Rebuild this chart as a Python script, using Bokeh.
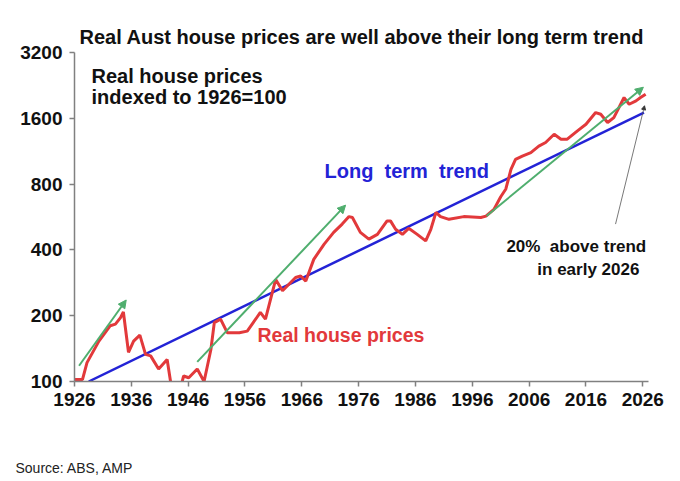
from bokeh.plotting import figure
from bokeh.models import (Range1d, FixedTicker, PrintfTickFormatter, Label, Arrow,
                          NormalHead, Title)
from bokeh.embed import file_html
from bokeh.resources import INLINE

# ---- data ----
price_years = [1926.0, 1927.4, 1928.2, 1930.3, 1932.3, 1933.2, 1934.1, 1934.6, 1935.5,
               1936.4, 1937.5, 1938.5, 1939.4, 1940.8, 1942.3, 1942.9, 1943.6, 1944.5,
               1945.2, 1946.1, 1947.6, 1948.8, 1950.0, 1950.6, 1951.7, 1952.9, 1955.0,
               1956.4, 1958.7, 1959.6, 1961.4, 1962.6, 1964.9, 1965.8, 1966.7, 1968.1,
               1969.9, 1971.6, 1973.1, 1974.3, 1974.9, 1976.3, 1977.8, 1979.3, 1981.0,
               1981.6, 1982.5, 1983.7, 1984.8, 1986.3, 1987.8, 1988.7, 1989.6, 1990.4,
               1991.9, 1994.5, 1997.5, 1998.4, 1999.8, 2001.0, 2001.9, 2002.8, 2003.6,
               2004.8, 2006.3, 2007.7, 2008.9, 2010.4, 2011.6, 2012.7, 2014.5, 2016.0,
               2017.7, 2018.6, 2019.8, 2020.9, 2022.7, 2023.6, 2024.8, 2025.6, 2026.5]
price_values = [102, 102, 122, 153, 180, 183, 196, 208, 136,
                153, 163, 133, 131, 114, 126, 100, 88, 90,
                106, 104, 114, 100, 140, 186, 193, 167, 167,
                170, 207, 193, 293, 260, 299, 304, 288, 362,
                424, 481, 525, 568, 563, 481, 448, 471, 543,
                543, 497, 471, 502, 471, 440, 497, 594, 568,
                552, 568, 563, 571, 613, 700, 760, 935, 1038,
                1075, 1115, 1193, 1240, 1353, 1284, 1284, 1402, 1503,
                1700, 1669, 1530, 1612, 1991, 1855, 1922, 1991, 2060]

trend_years = [1928.5, 2026.2]
trend_values = [100, 1700]

boom_start_years = [1926.8, 1947.6, 1998.5]
boom_start_values = [118, 123, 572]
boom_end_years = [1935.1, 1973.7, 2026.1]
boom_end_values = [236, 641, 2220]

x_ticks = [1926, 1936, 1946, 1956, 1966, 1976, 1986, 1996, 2006, 2016, 2026]
y_ticks = [100, 200, 400, 800, 1600, 3200]

RED = "#e2393b"
BLUE = "#2323d6"
GREEN = "#4fae6e"
FONT = "Liberation Sans"

p = figure(width=664, height=476, y_axis_type="log",
           x_range=Range1d(1926, 2027), y_range=Range1d(100, 3200),
           output_backend="svg", toolbar_location=None,
           min_border_left=74, min_border_right=16, min_border_top=52,
           min_border_bottom=95)

p.title.text = "Real Aust house prices are well above their long term trend"
p.title.text_font = FONT
p.title.text_font_size = "20px"
p.title.text_font_style = "bold"
p.title.text_color = "#111111"
p.title.align = "left"
p.title.offset = 5
p.title.standoff = 9

p.xgrid.visible = False
p.ygrid.visible = False
p.outline_line_color = None

for ax in (p.xaxis[0], p.yaxis[0]):
    ax.axis_line_color = "#808080"
    ax.axis_line_width = 1.5
    ax.major_tick_line_color = "#808080"
    ax.major_tick_line_width = 1.5
    ax.major_tick_out = 5
    ax.major_tick_in = 0
    ax.minor_tick_line_color = None
    ax.major_label_text_font = FONT
    ax.major_label_text_font_style = "bold"
    ax.major_label_text_color = "#111111"

p.xaxis.ticker = FixedTicker(ticks=x_ticks)
p.xaxis.major_label_text_font_size = "19px"
p.xaxis.major_label_standoff = 6
p.yaxis.ticker = FixedTicker(ticks=y_ticks)
p.yaxis.formatter = PrintfTickFormatter(format="%d")
p.yaxis.major_label_text_font_size = "19px"
p.yaxis.major_label_standoff = 7

p.line(trend_years, trend_values, line_color=BLUE, line_width=2.5)
p.line(price_years, price_values, line_color=RED, line_width=3)

for x0, y0, x1, y1 in zip(boom_start_years, boom_start_values, boom_end_years, boom_end_values):
    p.add_layout(Arrow(x_start=x0, y_start=y0, x_end=x1, y_end=y1,
                       line_color=GREEN, line_width=2,
                       end=NormalHead(size=8, fill_color=GREEN, line_color=GREEN)))

p.add_layout(Arrow(x_start=2021.2, y_start=525, x_end=2026.3, y_end=1826,
                   line_color="#555555", line_width=0.8,
                   end=NormalHead(size=4, fill_color="#333333", line_color="#333333")))

def lab(x, y, text, color="#111111", size="17px", style="bold", align="left"):
    p.add_layout(Label(x=x, y=y, text=text, text_color=color, text_font=FONT,
                       text_font_size=size, text_font_style=style,
                       text_align=align, text_baseline="middle"))

NB = "\u00a0"
lab(1929.0, 2492, "Real house prices", size="20px")
lab(1929.0, 1996, "indexed to 1926=100", size="20px")
lab(1970.0, 915, "Long" + NB + " term" + NB + " trend", color=BLUE, size="20px")
lab(1958.2, 163, "Real house prices", color=RED, size="19.5px")
lab(2026.6, 416, "20%" + NB + " above trend", align="right")
lab(2025.4, 326, "in early 2026", align="right")

# spacer between the axis and the source note
spacer = Title(text=" ", text_font_size="10px", standoff=36)
p.add_layout(spacer, "below")
src = Title(text="Source: ABS, AMP", align="left", offset=-59, standoff=0,
            text_font=FONT, text_font_size="14px", text_font_style="normal",
            text_color="#222222")
p.add_layout(src, "below")

open("out.html", "w").write(file_html(p, INLINE))
